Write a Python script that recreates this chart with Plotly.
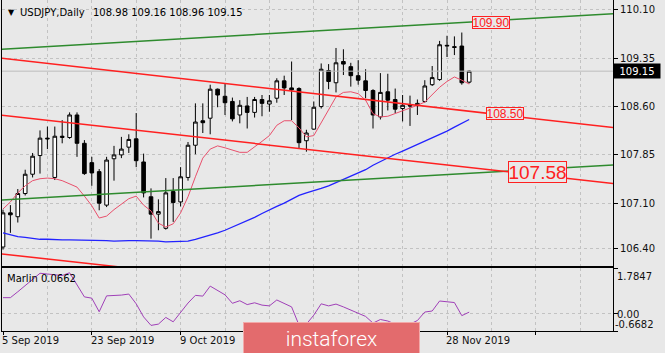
import plotly.graph_objects as go

# ---------------- data ----------------
# bar index 0 = 5 Sep 2019 ... 63 = 3 Dec 2019 (daily, trading days)
opens = [106.42, 106.95, 106.89, 107.25, 107.55, 107.84, 108.11, 107.50, 108.12, 108.12,
         108.47, 108.03, 107.73, 107.59, 107.07, 107.79, 107.85, 107.97, 108.10, 107.74,
         107.20, 106.93, 106.71, 107.28, 107.12, 107.50, 108.00, 108.38, 108.42, 108.87,
         108.76, 108.68, 108.47, 108.61, 108.51, 108.71, 108.64, 108.73, 109.00, 108.89,
         108.88, 108.07, 108.25, 108.60, 109.16, 108.97, 109.30, 109.22, 109.08, 109.00,
         108.85, 108.44, 108.83, 108.71, 108.57, 108.62, 108.62, 108.68, 108.94, 109.02,
         109.54, 109.53, 109.54, 108.98]
highs = [107.00, 107.07, 107.32, 107.62, 107.88, 108.23, 108.29, 108.29, 108.39, 108.51,
         108.51, 108.08, 107.82, 107.63, 107.82, 107.99, 108.13, 108.17, 108.50, 107.87,
         107.33, 107.16, 107.49, 107.49, 107.66, 108.05, 108.65, 108.65, 108.94, 108.88,
         108.95, 108.74, 108.70, 108.75, 108.75, 108.78, 108.78, 109.04, 109.08, 109.30,
         108.90, 108.24, 108.68, 109.27, 109.26, 109.51, 109.49, 109.28, 109.32, 109.18,
         108.87, 109.12, 109.11, 108.88, 108.78, 108.77, 108.71, 109.01, 109.23, 109.62,
         109.70, 109.69, 109.75, 109.16]
lows = [106.38, 106.64, 106.80, 107.22, 107.50, 107.56, 107.94, 107.46, 108.03, 108.10,
        107.82, 107.54, 107.37, 106.99, 107.04, 107.45, 107.80, 107.88, 107.66, 107.19,
        106.55, 106.68, 106.69, 106.81, 107.05, 107.45, 107.86, 108.19, 108.17, 108.59,
        108.47, 108.37, 108.34, 108.26, 108.43, 108.45, 108.52, 108.66, 108.78, 108.39,
        107.95, 107.90, 108.24, 108.57, 108.87, 108.82, 109.09, 108.91, 108.94, 108.73,
        108.26, 108.40, 108.54, 108.50, 108.37, 108.30, 108.47, 108.66, 108.92, 109.00,
        109.37, 109.40, 108.94, 108.96]
closes = [106.95, 106.92, 107.25, 107.55, 107.83, 108.11, 108.10, 108.14, 108.14, 108.47,
          108.03, 107.56, 107.57, 107.10, 107.77, 107.85, 107.94, 108.09, 107.76, 107.26,
          106.93, 106.97, 107.26, 107.11, 107.51, 108.00, 108.36, 108.35, 108.87, 108.78,
          108.66, 108.41, 108.62, 108.51, 108.71, 108.65, 108.69, 109.00, 108.89, 108.86,
          108.04, 108.19, 108.59, 109.18, 108.99, 109.28, 109.26, 109.08, 109.01, 108.85,
          108.47, 108.82, 108.70, 108.56, 108.62, 108.61, 108.65, 108.92, 109.05, 109.56,
          109.55, 109.52, 108.97, 109.15]

ma_fast = [107.01, 107.12, 107.26, 107.37, 107.45, 107.48, 107.49, 107.48, 107.45, 107.40,
           107.35, 107.21, 107.06, 106.87, 106.90, 107.00, 107.09, 107.17, 107.21, 107.07,
           106.98, 106.79, 106.73, 106.78, 106.95, 107.20, 107.51, 107.80, 107.94, 107.99,
           107.96, 107.93, 107.89, 107.89, 107.97, 108.06, 108.15, 108.31, 108.38, 108.38,
           108.27, 108.13, 108.15, 108.35, 108.56, 108.75, 108.82, 108.83, 108.80, 108.70,
           108.49, 108.44, 108.45, 108.49, 108.53, 108.58, 108.62, 108.67, 108.78, 108.90,
           108.99, 109.06, 109.01, 108.95]
ma_slow = [106.64, 106.61, 106.58, 106.57, 106.55, 106.54, 106.54, 106.53, 106.53, 106.53,
           106.53, 106.52, 106.52, 106.52, 106.52, 106.51, 106.52, 106.52, 106.52, 106.52,
           106.52, 106.51, 106.50, 106.50, 106.50, 106.51, 106.54, 106.57, 106.61, 106.64,
           106.68, 106.73, 106.78, 106.82, 106.88, 106.94, 107.00, 107.05, 107.10, 107.16,
           107.22, 107.26, 107.29, 107.33, 107.37, 107.42, 107.46, 107.52, 107.57, 107.62,
           107.69, 107.75, 107.81, 107.86, 107.91, 107.96, 108.02, 108.07, 108.12, 108.17,
           108.22, 108.28, 108.34, 108.40]
marlin = [0.63, 0.63, 0.86, 1.10, 1.34, 1.58, 1.55, 1.51, 1.49, 1.60,
          1.12, 0.66, 0.61, 0.08, 0.70, 0.71, 0.73, 0.77, 0.39, -0.12,
          -0.45, -0.40, -0.14, -0.31, 0.07, 0.42, 0.72, 0.69, 1.08, 0.91,
          0.74, 0.41, 0.51, 0.36, 0.43, 0.34, 0.31, 0.54, 0.41, 0.27,
          -0.44, -0.40, -0.05, 0.39, 0.31, 0.38, 0.27, 0.15, 0.05, -0.10,
          -0.36, -0.22, -0.28, -0.40, -0.44, -0.40, -0.26, 0.07, 0.11, 0.50,
          0.47, 0.44, -0.07, 0.0662]

# trend lines: two anchor points each (bar index, price)
green_upper = ([0, 82], [109.49, 110.04])
red_upper = ([0, 82], [109.35, 108.28])
red_lower = ([0, 82], [108.465, 107.41])
green_lower = ([0, 82], [107.15, 107.69])
red_bottom = ([0, 82], [106.31, 105.27])

level_labels = ["109.90", "108.50", "107.58"]

price_ticks = [110.10, 109.35, 108.60, 107.85, 107.10, 106.40]
osc_ticks = [1.7847, 0.0, -0.6682]
date_tick_idx = [0, 12, 24, 60]
date_tick_text = ["5 Sep 2019", "23 Sep 2019", "9 Oct 2019", "28 Nov 2019"]

symbol = "USDJPY,Daily"
osc_name = "Marlin"

# ---------------- layout geometry ----------------
W, H = 665, 353
ML, MR, MT, MB = 2, 52, 0, 22
PW, PH = W - ML - MR, H - MT - MB
BG = "#e8e8e8"
GRID = "#c2c2c2"
FONT = "DejaVu Sans"


def pxx(x):
    return (x - ML) / PW


def pxy(y):
    return (MT + PH - y) / PH


main_dom = [pxy(266), 1.0]
osc_dom = [0.0, pxy(268)]
x_range = [(ML - 3) / 7.4, (ML + PW - 3) / 7.4]
y_range = [106.125, 110.255]
o_range = [-0.6682, 1.7847]

idx = list(range(len(closes)))


def extend(line, x0=-2, x1=90):
    (a, b), (pa, pb) = line
    s = (pb - pa) / (b - a)
    return [x0, x1], [pa + s * (x0 - a), pa + s * (x1 - a)]


fig = go.Figure()

# bid line
fig.add_trace(go.Scatter(x=[-2, 90], y=[closes[-1]] * 2, mode="lines",
                         line=dict(color="#bdbdbd", width=1), hoverinfo="skip"))

fig.add_trace(go.Candlestick(
    x=idx, open=opens, high=highs, low=lows, close=closes,
    increasing=dict(fillcolor="#ffffff", line=dict(color="#000000", width=1)),
    decreasing=dict(fillcolor="#000000", line=dict(color="#000000", width=1)),
    whiskerwidth=0, xaxis="x", yaxis="y"))

fig.add_trace(go.Scatter(x=idx, y=ma_slow, mode="lines",
                         line=dict(color="#2222ff", width=1.3)))
fig.add_trace(go.Scatter(x=idx, y=ma_fast, mode="lines",
                         line=dict(color="#e8506c", width=1)))

for ln, col in [(green_upper, "#2e8b2e"), (green_lower, "#2e8b2e"),
                (red_upper, "#ff2020"), (red_lower, "#ff2020"), (red_bottom, "#ff2020")]:
    xs, ys = extend(ln)
    fig.add_trace(go.Scatter(x=xs, y=ys, mode="lines",
                             line=dict(color=col, width=1.5), hoverinfo="skip"))

fig.add_trace(go.Scatter(x=idx, y=marlin, mode="lines", xaxis="x2", yaxis="y2",
                         line=dict(color="#a040b8", width=1)))

grid6 = list(range(0, 84, 6))
fig.update_layout(
    width=W, height=H, autosize=False,
    margin=dict(l=ML, r=MR, t=MT, b=MB, pad=0),
    paper_bgcolor=BG, plot_bgcolor=BG,
    showlegend=False, boxgap=0.3,
    font=dict(family=FONT, size=10, color="#000000"),
    xaxis=dict(domain=[0, 1], range=x_range, anchor="y",
               tickmode="array", tickvals=grid6, showticklabels=False, ticks="",
               showgrid=True, gridcolor=GRID, griddash="3px,3px", gridwidth=1,
               zeroline=False, showline=True, linecolor="#000000", linewidth=1,
               mirror=False, rangeslider=dict(visible=False), fixedrange=True),
    yaxis=dict(domain=main_dom, range=y_range, side="right", anchor="x",
               tickmode="array", tickvals=price_ticks,
               ticktext=[f"{v:.2f}" for v in price_ticks],
               ticks="outside", ticklen=4, tickcolor="#000000",
               tickfont=dict(family=FONT, size=10, color="#111111"),
               showgrid=True, gridcolor=GRID, griddash="3px,3px", gridwidth=1,
               zeroline=False, showline=True, linecolor="#000000", linewidth=1,
               mirror=True),
    xaxis2=dict(domain=[0, 1], range=x_range, anchor="y2",
                tickmode="array", tickvals=[0, 12, 24, 36, 48, 60, 72],
                showticklabels=False, ticks="outside", ticklen=3, tickcolor="#000000",
                showgrid=True, gridcolor=GRID, griddash="3px,3px", gridwidth=1,
                minor=dict(tickvals=[6, 18, 30, 42, 54, 66, 78], showgrid=True,
                           gridcolor=GRID, griddash="3px,3px", ticks=""),
                zeroline=False, showline=True, linecolor="#000000", linewidth=1,
                mirror=True),
    yaxis2=dict(domain=osc_dom, range=o_range, side="right", anchor="x2",
                tickmode="array", tickvals=osc_ticks, showticklabels=False,
                ticks="outside", ticklen=4, tickcolor="#000000",
                showgrid=True, gridcolor=GRID, griddash="3px,3px", gridwidth=1,
                zeroline=False, showline=True, linecolor="#000000", linewidth=1,
                mirror=True),
)

ann = []
# title
ann.append(dict(xref="paper", yref="paper", x=pxx(6), y=pxy(12.5), xanchor="left",
                yanchor="middle", text="▼", showarrow=False,
                font=dict(family=FONT, size=8, color="#000000")))
ann.append(dict(xref="paper", yref="paper", x=pxx(18), y=pxy(12.5), xanchor="left",
                yanchor="middle", text=symbol, showarrow=False,
                font=dict(family=FONT, size=10, color="#000000")))
ann.append(dict(xref="paper", yref="paper", x=pxx(91), y=pxy(12.5), xanchor="left",
                yanchor="middle",
                text="&nbsp;".join(f"{v:.2f}" for v in (opens[-1], highs[-1], lows[-1], closes[-1])),
                showarrow=False, font=dict(family=FONT, size=10, color="#000000")))
# oscillator caption
ann.append(dict(xref="paper", yref="paper", x=pxx(5), y=pxy(278), xanchor="left",
                yanchor="middle", text=f"{osc_name} {marlin[-1]:.4f}", showarrow=False,
                font=dict(family=FONT, size=10, color="#000000")))
# current price tag
ann.append(dict(xref="paper", yref="y", x=1, y=closes[-1], xanchor="left",
                yanchor="middle", text=f"{closes[-1]:.2f}", showarrow=False,
                bgcolor="#000000", width=44, height=12, borderpad=1,
                font=dict(family=FONT, size=10, color="#ffffff")))
# oscillator scale labels (compact boxes so the two lower labels sit tight)
ann.append(dict(xref="paper", yref="paper", x=1, y=pxy(276), xanchor="left",
                yanchor="middle", xshift=3, text=f"{osc_ticks[0]:.4f}", showarrow=False,
                height=9, borderpad=0,
                font=dict(family=FONT, size=10, color="#111111")))
ann.append(dict(xref="paper", yref="paper", x=1, y=pxy(313.5), xanchor="left",
                yanchor="middle", xshift=3, text=f"{osc_ticks[1]:.2f}",
                height=8, borderpad=0, showarrow=False,
                font=dict(family=FONT, size=10, color="#111111")))
ann.append(dict(xref="paper", yref="paper", x=1, y=pxy(323.5), xanchor="left",
                yanchor="middle", xshift=1, text=f"{osc_ticks[2]:.4f}",
                height=8, borderpad=0, showarrow=False,
                font=dict(family=FONT, size=10, color="#111111")))
# date labels
for i, t in zip(date_tick_idx, date_tick_text):
    ann.append(dict(xref="x2", yref="paper", x=i, y=0, xanchor="left", yanchor="top",
                    xshift=-3, yshift=-2, text=t, showarrow=False,
                    font=dict(family=FONT, size=10, color="#111111")))
# level boxes
box_pos = [(65.9, 12, 36, 11), (67.9, 12, 36, 11), (72.2, 19, 57, 20)]
for lab, (bx, fs, bw, bh) in zip(level_labels, box_pos):
    ann.append(dict(xref="x", yref="y", x=bx, y=float(lab), text=lab, showarrow=False,
                    xanchor="center", yanchor="middle", bgcolor=BG,
                    bordercolor="#ff2020", borderwidth=1, borderpad=0,
                    width=bw, height=bh,
                    font=dict(family="Liberation Sans", size=fs, color="#ff2020")))
# logo
ann.append(dict(xref="paper", yref="paper", x=pxx(243), y=pxy(322), xanchor="left",
                yanchor="top", text="instaforex", showarrow=False,
                width=175, height=32, borderpad=0, bgcolor="#e36b6d",
                bordercolor="#f3a9a9", borderwidth=1,
                font=dict(family="Roboto", size=21, color="#ffffff", weight=300)))
fig.update_layout(annotations=ann)

fig.write_html("out.html")
